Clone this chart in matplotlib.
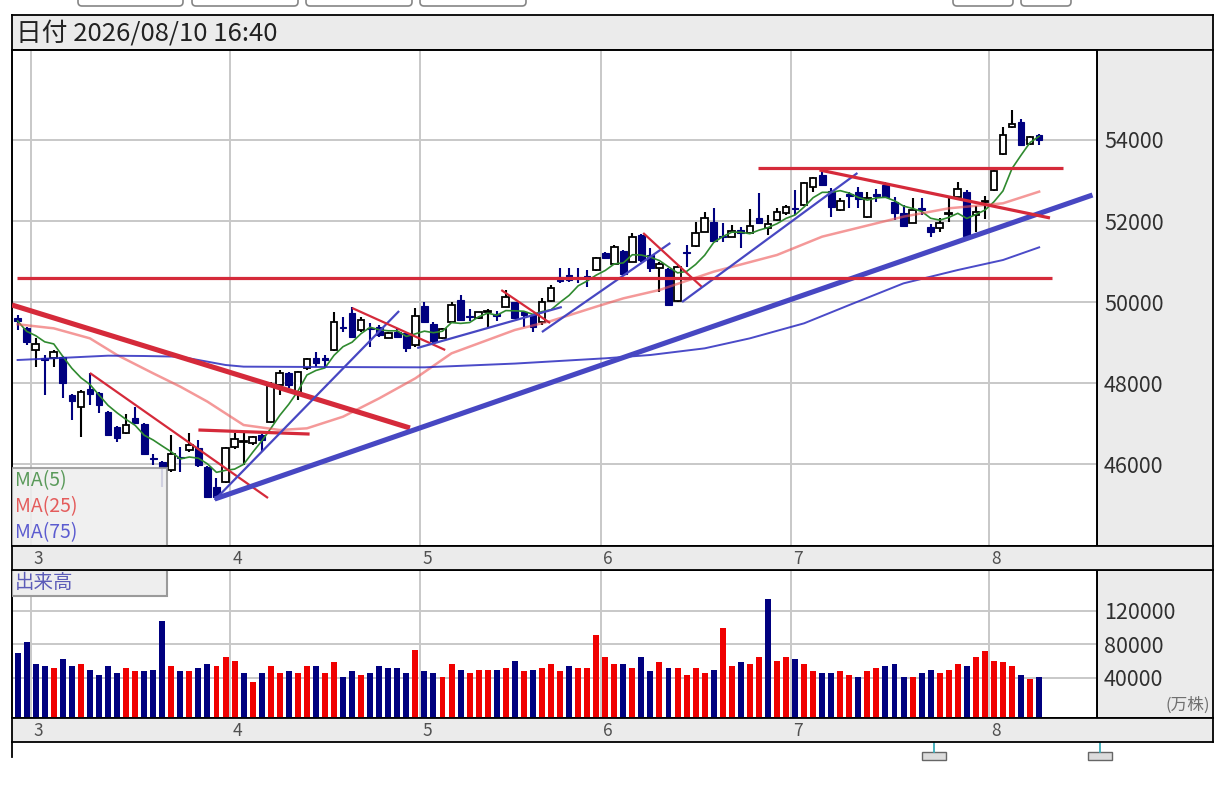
import numpy as np
import pandas as pd
import matplotlib
matplotlib.use("Agg")
import matplotlib.pyplot as plt
from matplotlib.patches import FancyBboxPatch, Rectangle

plt.rcParams["font.family"] = ["Noto Sans CJK JP", "DejaVu Sans"]

W, H = 1228, 787

# ---- daily candles (candle 1 .. 114) ----
OPEN = [49597, 49350, 48815, 48609, 48626, 48651, 47704, 47416, 47844, 47762,
        47292, 46922, 46758, 47144, 46980, 46157, 46058, 45852, 46173, 46346,
        46387, 45935, 45441, 45564, 46428, 46536, 46511, 46717, 47029, 47951,
        48255, 47786, 48363, 48610, 48626, 48815, 49383, 49720, 49309, 49367,
        49391, 49120, 49268, 49227, 48950, 49900, 49449, 49103, 49498, 50049,
        49654, 49597, 49745, 49696, 49885, 49992, 49745, 49679, 49515, 50025,
        50625, 50667, 50601, 50642, 50790, 51201, 50950, 51260, 50996, 51655,
        51161, 50832, 50815, 50025, 51243, 51391, 51737, 51967, 51630, 51614,
        51778, 51696, 52083, 51836, 52025, 52190, 52330, 52395, 52848, 53136,
        52749, 52272, 52659, 52725, 52091, 52659, 52889, 52478, 52190, 51959,
        52313, 51861, 51820, 52173, 52601, 52725, 52149, 52462, 52766, 53655,
        54313, 54453, 53902, 54124]
HIGH = [49679, 49380, 49103, 48692, 48815, 48670, 47720, 47828, 48239, 47790,
        47310, 46950, 47227, 47416, 47010, 46239, 46080, 46716, 46428, 46757,
        46593, 45950, 45647, 46420, 46758, 46758, 46700, 46730, 48033, 48321,
        48280, 48300, 48610, 48774, 48700, 49762, 49638, 49885, 49638, 49474,
        49430, 49268, 49350, 49268, 49844, 50008, 49500, 49350, 49992, 50173,
        49830, 49760, 49820, 49780, 50296, 50010, 49790, 49700, 50090, 50420,
        50848, 50848, 50848, 50800, 51119, 51230, 51410, 51290, 51696, 51670,
        51325, 50996, 50830, 50914, 51408, 51967, 52214, 52313, 51943, 51902,
        51861, 52297, 52683, 52148, 52330, 52400, 52766, 52971, 53095, 53260,
        52807, 52560, 52725, 52832, 52725, 52800, 52972, 52601, 52400, 52560,
        52560, 51930, 52066, 52560, 52972, 52766, 52371, 52618, 53260, 54313,
        54741, 54510, 54090, 54140]
LOW = [49309, 48938, 48404, 47704, 48404, 47622, 47087, 46675, 47457, 47251,
       46700, 46552, 46740, 46980, 46220, 45976, 45430, 45811, 45811, 46300,
       45935, 45153, 45153, 45520, 46380, 45976, 46470, 46305, 47010, 47704,
       47870, 47581, 48320, 48400, 48404, 48800, 49268, 49120, 49268, 48897,
       49144, 49100, 49120, 48774, 48900, 49490, 48979, 49080, 49470, 49520,
       49520, 49580, 49391, 49520, 49870, 49580, 49391, 49268, 49430, 50010,
       50461, 50500, 50461, 50379, 50770, 51060, 50930, 50684, 50980, 50990,
       50750, 50256, 49910, 50000, 50873, 51370, 51720, 51490, 51490, 51600,
       51342, 51680, 51920, 51655, 52010, 52150, 52148, 52380, 52725, 52870,
       52108, 52250, 52313, 52330, 52080, 52480, 52560, 52025, 51860, 51940,
       52149, 51597, 51720, 51984, 52580, 51610, 51737, 52060, 52750, 53640,
       54300, 53850, 53880, 53877]
CLOSE = [49531, 49021, 48955, 48560, 48758, 47992, 47556, 47786, 47729, 47457,
         46717, 46634, 46963, 47004, 46239, 46124, 45893, 46239, 46140, 46469,
         45976, 45194, 45194, 46387, 46618, 46568, 46676, 46593, 47926, 48239,
         47951, 48280, 48593, 48486, 48560, 49498, 49350, 49144, 49556, 49334,
         49186, 49227, 49144, 48856, 49660, 49515, 49037, 49325, 49926, 49556,
         49622, 49745, 49778, 49663, 50132, 49597, 49690, 49391, 50008, 50354,
         50518, 50543, 50568, 50609, 51078, 51094, 51350, 50700, 51614, 51038,
         50832, 50930, 49927, 50873, 51210, 51696, 52066, 51507, 51597, 51753,
         51696, 51877, 51943, 51918, 52231, 52354, 52297, 52930, 53070, 52889,
         52354, 52503, 52626, 52536, 52560, 52626, 52585, 52190, 51877, 52272,
         52264, 51737, 51959, 52206, 52782, 51630, 52231, 52494, 53235, 54124,
         54395, 53877, 54066, 54000]

# 出来高 (shares), colour flag per day: r = up, b = down
VOLUME = [69200, 83200, 56400, 54000, 51600, 62400, 54000, 56400, 49200, 43200,
          54000, 45600, 51600, 48000, 48000, 49200, 108000, 54000, 48000, 48000,
          51600, 56400, 54000, 64800, 60000, 45600, 34800, 45600, 54000, 45600,
          48000, 45600, 54000, 54000, 45600, 58800, 40800, 48000, 43200, 45600,
          54000, 51600, 51600, 45600, 73200, 48000, 45600, 40800, 56400, 49200,
          45600, 49200, 49200, 49200, 51600, 60000, 48000, 49200, 51600, 56400,
          48000, 54000, 51600, 51600, 91200, 64800, 56400, 56400, 51600, 64800,
          48000, 58800, 51600, 51600, 43200, 51600, 45600, 49200, 99600, 54000,
          58800, 56400, 64800, 134400, 60000, 64800, 62400, 56400, 48000, 45600,
          45600, 48000, 43200, 40800, 48000, 51600, 54000, 56400, 40800, 40800,
          45600, 49200, 45600, 49200, 56400, 54000, 64800, 72000, 60000, 58800,
          54000, 43200, 38400, 40800]
VOL_DIR = ("bbbbrbbrbb" "bbrrbbbrbr" "bbrrrbrbrr" "brrbrrbbrb" "bbbbrbbrrb"
           "rrrbrbrbrr" "rbrrrrrbrb" "brbrrrrbrr" "brrbrrbrrb" "brrbrrbbbr"
           "bbrrrbrrrr" "rbrb")

# month labels and the first candle of each month
MONTH_LABELS = ["3", "4", "5", "6", "7", "8"]
MONTH_FIRST = [3, 25, 46, 66, 87, 109]

# longer moving averages, read at sample candles
MA25_AT = [1, 5, 9, 12, 16, 19, 22, 24, 26, 30, 33, 37, 41, 45, 49, 56, 60,
           65, 68, 72, 78, 85, 90, 99, 104, 110, 114]
MA25_VAL = [49450, 49350, 49103, 48692, 48239, 47910, 47540, 47251, 46963,
            46840, 46881, 47169, 47622, 48116, 48733, 49309, 49531, 49885,
            50090, 50297, 50749, 51161, 51614, 52108, 52313, 52437, 52725]
MA75_AT = [1, 11, 15, 19, 24, 26, 35, 46, 56, 66, 71, 77, 82, 88, 93, 99,
           105, 110, 114]
MA75_VAL = [48568, 48675, 48667, 48650, 48445, 48404, 48395, 48387, 48480,
            48610, 48692, 48856, 49103, 49474, 49926, 50461, 50790, 51037,
            51350]

PRICE_TICKS = [46000, 48000, 50000, 52000, 54000]
VOL_TICKS = [40000, 80000, 120000]

# hand-drawn trend lines: (candle0, price0, candle1, price1, colour, weight)
TRENDLINES = [
    (0.38, 49926, 44.4, 46889, "red", "thick"),
    (9.0, 48247, 28.7, 45161, "red", "thin"),
    (21.0, 46840, 33.3, 46740, "red", "mid"),
    (22.8, 45112, 43.2, 49778, "blue", "thin"),
    (22.8, 45136, 119.9, 52642, "blue", "thick"),
    (38.0, 49852, 48.3, 48815, "red", "thin"),
    (45.2, 48864, 61.2, 49877, "blue", "thin"),
    (54.5, 50296, 59.9, 49482, "red", "thin"),
    (59.0, 49259, 73.2, 51457, "blue", "thin"),
    (70.2, 51704, 76.7, 50371, "red", "thin"),
    (74.5, 50000, 93.9, 53185, "blue", "thin"),
    (0.93, 50590, 115.4, 50590, "red", "mid"),
    (82.9, 53300, 116.6, 53300, "red", "mid"),
    (89.7, 53260, 115.2, 52075, "red", "mid"),
]

NAVY = "#00007f"
GRID = "#c8c8c8"
PANEL = "#ebebeb"
LINE_C = {"red": "#d52a3a", "blue": "#4747c2"}
LINE_W = {"thick": 3.7, "mid": 2.3, "thin": 1.6}

# candle-number scale: candle 1 sits at px 17.6, 9.04 px per candle
XL, XR = 0.38, 120.4
P_LO, P_HI = 43976, 56222
V_LO, V_HI = -8100, 168600

fig = plt.figure(figsize=(W / 100, H / 100), dpi=100)


def px_axes(x0, y0, x1, y1, **kw):
    return fig.add_axes([x0 / W, 1 - y1 / H, (x1 - x0) / W, (y1 - y0) / H], **kw)


def plain(a, fc=PANEL, lw=1.3):
    a.set_facecolor(fc)
    a.set_xticks([]); a.set_yticks([])
    for s in a.spines.values():
        s.set_color("black"); s.set_linewidth(lw)


# decoration layer in pixel coordinates (buttons, scroller marks)
deco = fig.add_axes([0, 0, 1, 1], zorder=-5)
deco.set_xlim(0, W); deco.set_ylim(H, 0); deco.axis("off")
for bx0, bx1 in ((78, 183), (192, 298), (306, 412), (420, 526), (953, 1013), (1021, 1071)):
    deco.add_patch(FancyBboxPatch((bx0, -14), bx1 - bx0, 20,
                                  boxstyle="round,pad=0,rounding_size=4",
                                  fc="white", ec="#858585", lw=1.2))
deco.plot([12, 12], [742, 757], color="black", lw=1.3)
for sx in (934, 1100):
    deco.plot([sx, sx], [742, 752], color="#3aaab8", lw=1.3)
    deco.add_patch(Rectangle((sx - 12, 752), 24, 8, fc="#dcdcdc", ec="#666666", lw=1))

# header bar
axh = px_axes(12, 15, 1213, 50)
plain(axh)
axh.text(0.003, 0.45, "日付 2026/08/10 16:40", transform=axh.transAxes,
         fontsize=18.5, color="#222222", va="center", ha="left")

# ---- price panel ----
ax = px_axes(12, 50, 1097, 546, zorder=2)
x = np.arange(1, len(CLOSE) + 1)
o, h, l, c = map(np.asarray, (OPEN, HIGH, LOW, CLOSE))
up = c >= o
ax.vlines(x[up], l[up], h[up], color="black", lw=1.5, zorder=3)
ax.vlines(x[~up], l[~up], h[~up], color=NAVY, lw=1.5, zorder=3)
ax.bar(x[up], np.maximum(c[up] - o[up], 35), bottom=o[up], width=0.74,
       facecolor="white", edgecolor="black", linewidth=1.3, zorder=4)
ax.bar(x[~up], np.maximum(o[~up] - c[~up], 35), bottom=c[~up], width=0.74,
       facecolor=NAVY, edgecolor=NAVY, linewidth=0.8, zorder=4)

ma5 = pd.Series(CLOSE).rolling(5, min_periods=1).mean()
ax.plot(x, ma5, color="#2f8a2f", lw=1.2, zorder=5)
ax.plot(MA25_AT, MA25_VAL, color="#ee5555", lw=1.8, alpha=0.6, zorder=5)
ax.plot(MA75_AT, MA75_VAL, color="#2b2bbf", lw=1.4, alpha=0.85, zorder=5)

for x0, y0, x1, y1, col, wt in TRENDLINES:
    ax.plot([x0, x1], [y0, y1], color=LINE_C[col], lw=LINE_W[wt],
            solid_capstyle="butt", zorder=6)

bounds = [m - 0.5 for m in MONTH_FIRST]
ax.set_xlim(XL, XR); ax.set_ylim(P_LO, P_HI)
ax.set_xticks(bounds); ax.set_yticks(PRICE_TICKS)
ax.grid(True, color=GRID, lw=1.4)
ax.set_axisbelow(True)
ax.yaxis.tick_right()
ax.tick_params(length=0, labelbottom=False, labelright=True, pad=5,
               labelsize=15.5, labelcolor="#303030")
for s in ax.spines.values():
    s.set_color("black"); s.set_linewidth(1.4)

# MA legend box
ax.add_patch(Rectangle((0, 0), 155 / 1085, 78 / 496, transform=ax.transAxes,
                       fc="#eeeeee", ec="#9a9a9a", lw=1.5, alpha=0.88, zorder=7))
for yy, txt, col in ((0.131, "MA(5)", "#5a9a5a"), (0.079, "MA(25)", "#e45c5c"),
                     (0.026, "MA(75)", "#5c5cd0")):
    ax.text(0.003, yy, txt, transform=ax.transAxes, color=col, fontsize=14,
            va="center", ha="left", zorder=8)

axr = px_axes(1097, 50, 1213, 546, zorder=0)
plain(axr)

# date strips share the candle scale (they run on to px 1213)
XR_WIDE = XL + (XR - XL) * 1201 / 1085


def date_strip(y0, y1):
    a = px_axes(12, y0, 1213, y1, zorder=3)
    plain(a)
    a.set_xlim(XL, XR_WIDE); a.set_ylim(0, 1)
    for b, lab in zip(bounds, MONTH_LABELS):
        a.text(b + 0.78, 0.45, lab, fontsize=12.5, color="#505050",
               ha="center", va="center")
    return a


date_strip(546, 570)

# ---- volume panel ----
axv = px_axes(12, 570, 1097, 718, zorder=2)
vol = np.asarray(VOLUME)
vcol = [("#f00000" if d == "r" else NAVY) for d in VOL_DIR]
axv.bar(x, vol - V_LO, bottom=V_LO, width=0.66, color=vcol, zorder=3)
axv.set_xlim(XL, XR); axv.set_ylim(V_LO, V_HI)
axv.set_xticks(bounds); axv.set_yticks(VOL_TICKS)
axv.grid(True, color=GRID, lw=1.4)
axv.set_axisbelow(True)
axv.yaxis.tick_right()
axv.tick_params(length=0, labelbottom=False, labelright=True, pad=5,
                labelsize=15.5, labelcolor="#303030")
for s in axv.spines.values():
    s.set_color("black"); s.set_linewidth(1.4)
axv.add_patch(Rectangle((0, 1 - 26 / 148), 155 / 1085, 26 / 148,
                        transform=axv.transAxes, fc="#eeeeee", ec="#9a9a9a",
                        lw=1.5, zorder=7))
axv.text(0.003, 1 - 13 / 148, "出来高", transform=axv.transAxes,
         color="#5c5cb8", fontsize=14, va="center", ha="left", zorder=8)

axvr = px_axes(1097, 570, 1213, 718, zorder=0)
plain(axvr)
axvr.text(0.97, 0.03, "(万株)", transform=axvr.transAxes, fontsize=12,
          color="#707070", ha="right", va="bottom")

date_strip(718, 742)

fig.savefig("out.png", dpi=100)
